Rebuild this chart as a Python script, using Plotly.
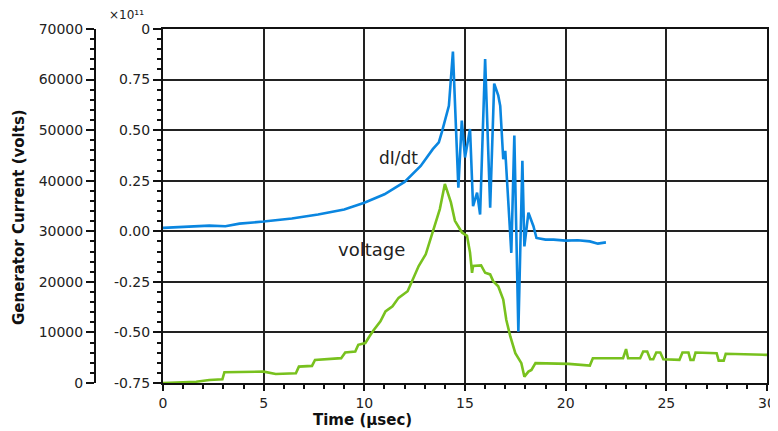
import plotly.graph_objects as go

# ---- data ----
t_didt = [0, 1.0, 2.3, 3.1, 3.8, 5.0, 6.4, 7.7, 9.0, 10.0, 11.0, 12.0, 12.8, 13.4, 13.7,
          13.85, 14.1, 14.2, 14.4, 14.67, 14.84, 15.0, 15.25, 15.4, 15.6, 15.75, 16.0, 16.25,
          16.45, 16.65, 16.75, 16.9, 17.0, 17.3, 17.45, 17.65, 17.85, 17.95, 18.15, 18.4,
          18.55, 19.0, 19.4, 20.0, 20.6, 21.2, 21.6, 22.0]
didt = [0.017, 0.022, 0.028, 0.025, 0.038, 0.048, 0.063, 0.083, 0.108, 0.141, 0.183, 0.244,
        0.323, 0.406, 0.44, 0.49, 0.589, 0.62, 0.888, 0.216, 0.547, 0.365, 0.506, 0.124,
        0.191, 0.083, 0.851, 0.116, 0.730, 0.672, 0.62, 0.356, 0.398, -0.107, 0.473, -0.497,
        0.348, -0.075, 0.092, 0.025, -0.033, -0.041, -0.041, -0.046, -0.044, -0.05, -0.061,
        -0.055]

t_volt = [0, 1.65, 2.3, 2.95, 3.05, 3.95, 5.0, 5.6, 6.6, 6.75, 7.4, 7.55, 8.85, 9.05, 9.55,
          9.7, 10.05, 10.25, 10.45, 10.8, 11.05, 11.4, 11.7, 12.15, 12.4, 12.7, 13.05, 13.45,
          13.75, 14.0, 14.3, 14.5, 14.85, 15.1, 15.25, 15.35, 15.4, 15.8, 16.0, 16.25, 16.4,
          16.65, 16.9, 17.05, 17.25, 17.5, 17.8, 17.95, 18.15, 18.3, 18.5, 20.15, 21.2, 21.35,
          22.85, 23.0, 23.1, 23.7, 23.85, 24.05, 24.2, 24.35, 24.5, 24.7, 24.85, 25.65, 25.8,
          26.1, 26.2, 26.35, 26.45, 27.5, 27.6, 27.85, 27.95, 30.0]
voltage = [0, 260, 600, 735, 2130, 2130, 2250, 1790, 1930, 3240, 3380, 4570, 4910, 6020, 6220,
           7550, 7900, 9200, 10400, 12200, 14170, 15170, 16840, 18150, 20480, 23120, 25450,
           30420, 34390, 39360, 35720, 32070, 29760, 29090, 25780, 21800, 23120, 23260, 21800,
           21470, 20140, 19140, 16500, 12520, 9200, 5900, 3920, 1250, 2250, 2580, 3920, 3780,
           3440, 4900, 4900, 6700, 4900, 4900, 6220, 6220, 4700, 4700, 6020, 6020, 4700, 4570,
           6020, 6020, 4570, 4570, 6020, 5900, 4430, 4430, 5770, 5570]

x_ticks = [0, 5, 10, 15, 20, 25, 30]
left_ticks = [0, 10000, 20000, 30000, 40000, 50000, 60000, 70000]
left_labels = ["0", "10000", "20000", "30000", "40000", "50000", "60000", "70000"]
right_ticks = [-0.75, -0.5, -0.25, 0.0, 0.25, 0.5, 0.75, 1.0]
right_labels = ["-0.75", "-0.50", "-0.25", "0.00", "0.25", "0.50", "0.75", "0"]

BLUE = "#0a86e0"
GREEN = "#78c11e"
INK = "#222222"
FONT = "DejaVu Sans"

fig = go.Figure()
fig.add_trace(go.Scatter(x=t_volt, y=voltage, mode="lines", yaxis="y",
                         line=dict(color=GREEN, width=2.6), showlegend=False))
fig.add_trace(go.Scatter(x=t_didt, y=didt, mode="lines", yaxis="y2",
                         line=dict(color=BLUE, width=2.6), showlegend=False))

OFF = 8  # page body margin
W, H = 778 - OFF, 431 - OFF
L = 95 - OFF
R = 778 - 767
T = 29 - OFF
B = 431 - 383
plot_w = W - L - R
plot_h = H - T - B
x0 = (163 - 95) / plot_w


def px(x):
    return (x - OFF - L) / plot_w


def py(y):
    return (H - B - (y - OFF)) / plot_h


fig.update_layout(
    width=W, height=H,
    margin=dict(l=L, r=R, t=T, b=B, autoexpand=False),
    paper_bgcolor="white", plot_bgcolor="white",
    font=dict(family=FONT, size=14, color=INK),
    xaxis=dict(domain=[x0, 1], range=[0, 30], anchor="y2", automargin=False,
               tickvals=x_ticks, ticks="outside", ticklen=6, tickwidth=2, tickcolor="#111",
               minor=dict(dtick=1, tick0=0, ticks="outside", ticklen=4, tickwidth=1.5,
                          tickcolor="#111", showgrid=False),
               showline=True, linecolor="#111", linewidth=2, mirror=True,
               showgrid=True, gridcolor="#222", gridwidth=1.6, zeroline=False,
               tickfont=dict(size=14, color=INK, family=FONT)),
    yaxis=dict(range=[0, 70000], anchor="free", position=0, side="left", automargin=False,
               tickvals=left_ticks, ticktext=left_labels,
               ticks="outside", ticklen=8, tickwidth=2, tickcolor="#111",
               minor=dict(dtick=2000, tick0=0, ticks="outside", ticklen=4, tickwidth=1.5,
                          tickcolor="#111", showgrid=False),
               showline=True, linecolor="#111", linewidth=2,
               showgrid=False, zeroline=False,
               tickfont=dict(size=14, color=INK, family=FONT)),
    yaxis2=dict(range=[-0.75, 1.0], anchor="x", overlaying="y", side="left", automargin=False,
                tickvals=right_ticks, ticktext=right_labels,
                ticks="outside", ticklen=8, tickwidth=2, tickcolor="#111",
                minor=dict(dtick=0.05, tick0=0, ticks="outside", ticklen=4, tickwidth=1.5,
                           tickcolor="#111", showgrid=False),
                showline=True, linecolor="#111", linewidth=2, mirror=True,
                showgrid=True, gridcolor="#222", gridwidth=1.6, zeroline=False,
                tickfont=dict(size=14, color=INK, family=FONT)),
)

fig.add_annotation(text="<b>Time (µsec)</b>", xref="paper", yref="paper",
                   x=px(362), y=py(420),
                   showarrow=False, font=dict(size=15, family=FONT, color="#111"),
                   xanchor="center", yanchor="middle")
fig.add_annotation(text="<b>Generator Current (volts)</b>", xref="paper", yref="paper",
                   x=px(19), y=py(217), textangle=-90, borderpad=0,
                   showarrow=False, font=dict(size=15, family=FONT, color="#111"),
                   xanchor="center", yanchor="middle")
fig.add_annotation(text="×10¹¹", xref="paper", yref="paper",
                   x=px(126), y=py(15), borderpad=0,
                   showarrow=False, font=dict(size=12, family=FONT, color=INK),
                   xanchor="center", yanchor="middle")
fig.add_annotation(text="dI/dt", xref="paper", yref="paper",
                   x=px(398), y=py(158),
                   showarrow=False, font=dict(size=17, family=FONT, color=INK),
                   xanchor="center", yanchor="middle")
fig.add_annotation(text="voltage", xref="paper", yref="paper",
                   x=px(371), y=py(249),
                   showarrow=False, font=dict(size=18, family=FONT, color=INK),
                   xanchor="center", yanchor="middle")

fig.write_html("out.html")
